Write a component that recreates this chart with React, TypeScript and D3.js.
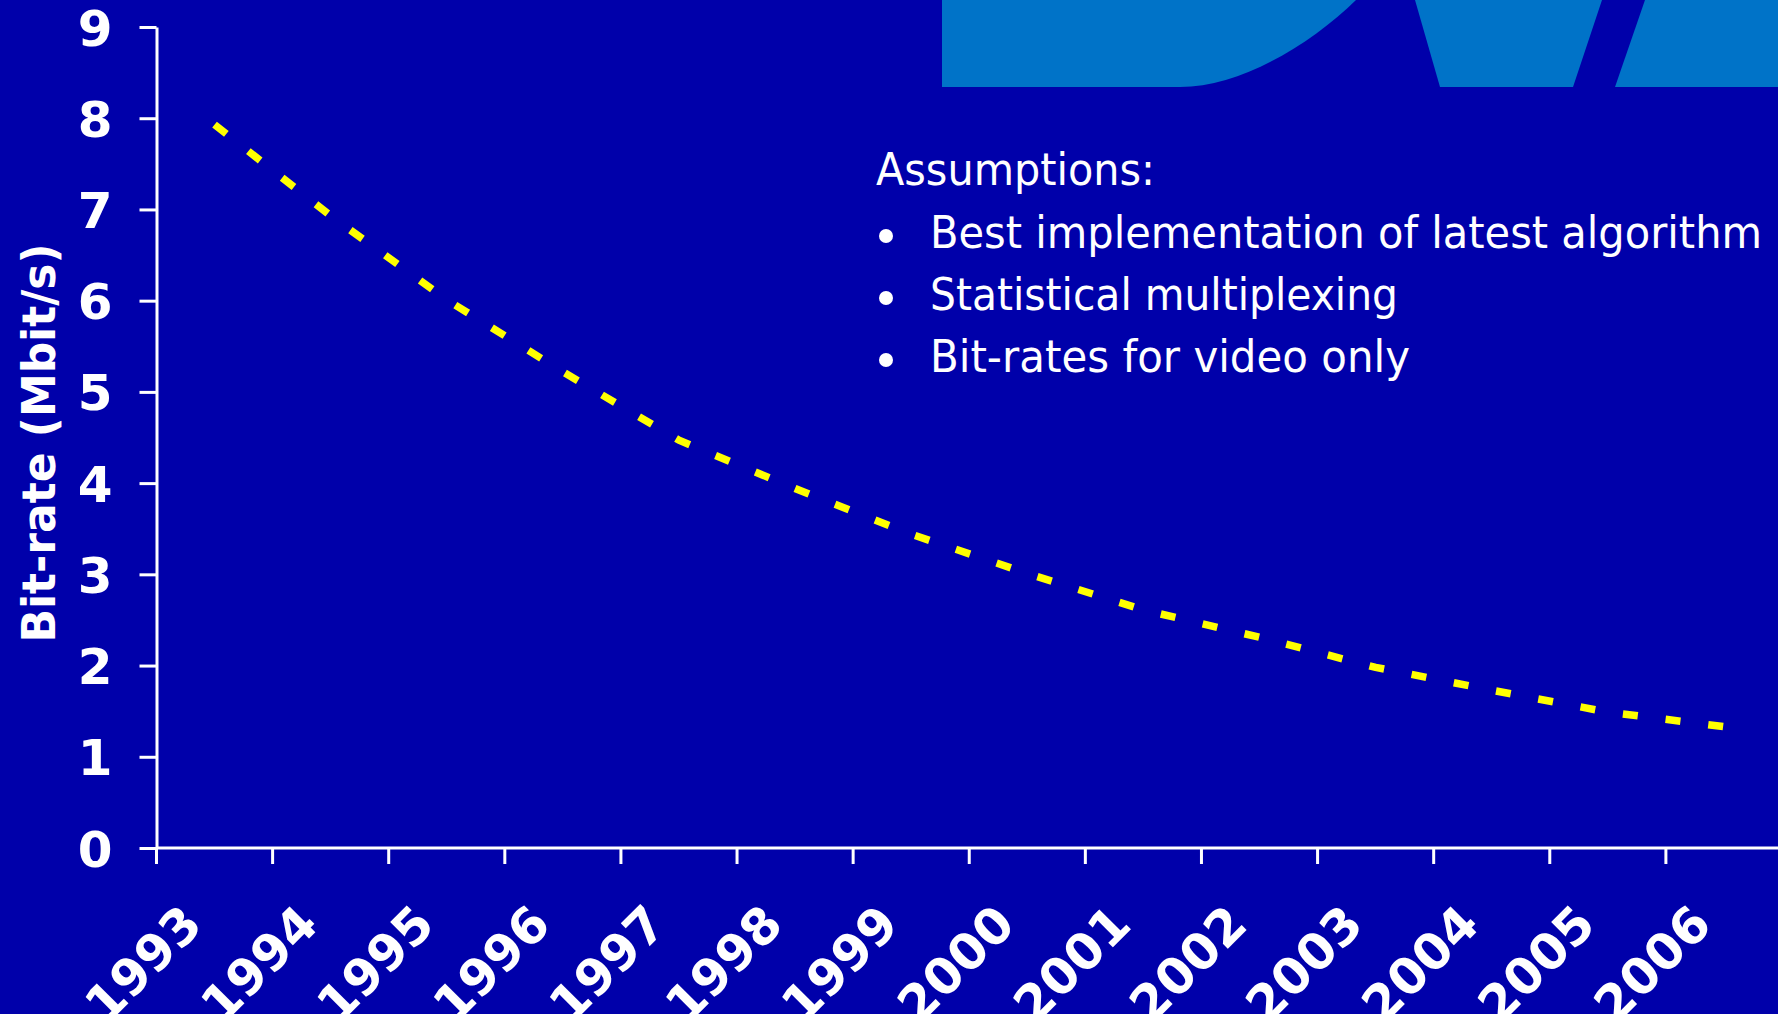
import React, { useEffect, useRef } from "react";
import * as d3 from "d3";

// Video bit-rate needed per year (Mbit/s)
const years = [
  "1993", "1994", "1995", "1996", "1997", "1998", "1999",
  "2000", "2001", "2002", "2003", "2004", "2005", "2006",
];
const bitRates = [7.93, 6.93, 6.01, 5.22, 4.47, 3.94, 3.44, 3.01, 2.61, 2.31, 1.98, 1.73, 1.49, 1.33];
const yTicks = [0, 1, 2, 3, 4, 5, 6, 7, 8, 9];
const yTitle = "Bit-rate (Mbit/s)";
const notesTitle = "Assumptions:";
const notes = [
  "Best implementation of latest algorithm",
  "Statistical multiplexing",
  "Bit-rates for video only",
];

const W = 1778;
const H = 1014;
const BG = "#0000AA";
const LOGO = "#0073C8";
const BOLD = "'DejaVu Sans', Verdana, sans-serif";

export default function App() {
  const ref = useRef<SVGSVGElement>(null);

  useEffect(() => {
    const svg = d3.select(ref.current);
    svg.selectAll("*").remove();

    svg.append("rect").attr("width", W).attr("height", H).attr("fill", BG);

    // Logo fragments along the top edge
    const logo = svg.append("g").attr("fill", LOGO);
    logo.append("path").attr("d", "M942,0 L942,87 L1180,87 C1240,87 1310,45 1356,0 Z");
    logo.append("path").attr("d", "M1415,0 L1440,87 L1573,87 L1602,0 Z");
    logo.append("path").attr("d", "M1645,0 L1615,87 L1778,87 L1778,0 Z");

    const plotLeft = 156.5;
    const plotRight = 1782;
    const plotBottom = 848;
    const plotTop = 27;

    const x = d3.scaleBand<string>().domain(years).range([plotLeft, plotRight]).padding(0);
    const y = d3.scaleLinear().domain([0, 9]).range([plotBottom, plotTop]);
    const bw = x.bandwidth();

    // Y axis
    const yAxis = d3
      .axisLeft(y)
      .tickValues(yTicks)
      .tickFormat(d3.format("d"))
      .tickSize(17)
      .tickSizeOuter(0)
      .tickPadding(27);
    const gy = svg.append("g").attr("transform", `translate(${plotLeft},0)`).call(yAxis);
    gy.select(".domain").attr("stroke", "#fff").attr("stroke-width", 3);
    gy.selectAll(".tick line").attr("stroke", "#fff").attr("stroke-width", 3);
    gy.selectAll(".tick text")
      .attr("fill", "#fff")
      .attr("font-family", BOLD)
      .attr("font-weight", "bold")
      .attr("font-size", 50)
      .attr("dy", "0.36em");

    // X axis (category axis, ticks between categories)
    const gx = svg.append("g");
    gx.append("line")
      .attr("x1", plotLeft)
      .attr("x2", plotRight)
      .attr("y1", plotBottom)
      .attr("y2", plotBottom)
      .attr("stroke", "#fff")
      .attr("stroke-width", 3);
    gx.selectAll("line.tick")
      .data(years)
      .join("line")
      .attr("class", "tick")
      .attr("x1", (d) => x(d)!)
      .attr("x2", (d) => x(d)!)
      .attr("y1", plotBottom)
      .attr("y2", plotBottom + 16)
      .attr("stroke", "#fff")
      .attr("stroke-width", 3);
    gx.selectAll("text")
      .data(years)
      .join("text")
      .attr("transform", (d) => `translate(${x(d)! + bw / 2 - 10},${plotBottom + 79}) rotate(-45)`)
      .attr("text-anchor", "end")
      .attr("fill", "#fff")
      .attr("font-family", BOLD)
      .attr("font-weight", "bold")
      .attr("font-size", 50)
      .text((d) => d);

    // Y axis title
    svg.append("text")
      .attr("transform", `translate(55,443) rotate(-90)`)
      .attr("text-anchor", "middle")
      .attr("fill", "#fff")
      .attr("font-family", BOLD)
      .attr("font-weight", "bold")
      .attr("font-size", 46)
      .attr("textLength", 399)
      .attr("lengthAdjust", "spacingAndGlyphs")
      .text(yTitle);

    // Dashed trend line
    const line = d3
      .line<number>()
      .x((_, i) => x(years[i])! + bw / 2)
      .y((d) => y(d));
    svg.append("path")
      .datum(bitRates)
      .attr("d", line)
      .attr("fill", "none")
      .attr("stroke", "#FFFF00")
      .attr("stroke-width", 7.5)
      .attr("stroke-dasharray", "15 28")
      .attr("stroke-linecap", "butt");

    // Notes block
    const notesG = svg.append("g").attr("fill", "#fff").attr("font-family", BOLD).attr("font-size", 44);
    notesG.append("text")
      .attr("x", 876)
      .attr("y", 185)
      .attr("textLength", 279)
      .attr("lengthAdjust", "spacingAndGlyphs")
      .text(notesTitle);
    const lens = [832, 468, 480];
    const baselines = [248, 310, 372];
    notes.forEach((t, i) => {
      notesG.append("circle").attr("cx", 886).attr("cy", baselines[i] - 12).attr("r", 7);
      notesG.append("text")
        .attr("x", 930)
        .attr("y", baselines[i])
        .attr("textLength", lens[i])
        .attr("lengthAdjust", "spacingAndGlyphs")
        .text(t);
    });
  }, []);

  return (
    <svg
      ref={ref}
      width={W}
      height={H}
      style={{ position: "fixed", left: 0, top: 0, display: "block" }}
    />
  );
}
